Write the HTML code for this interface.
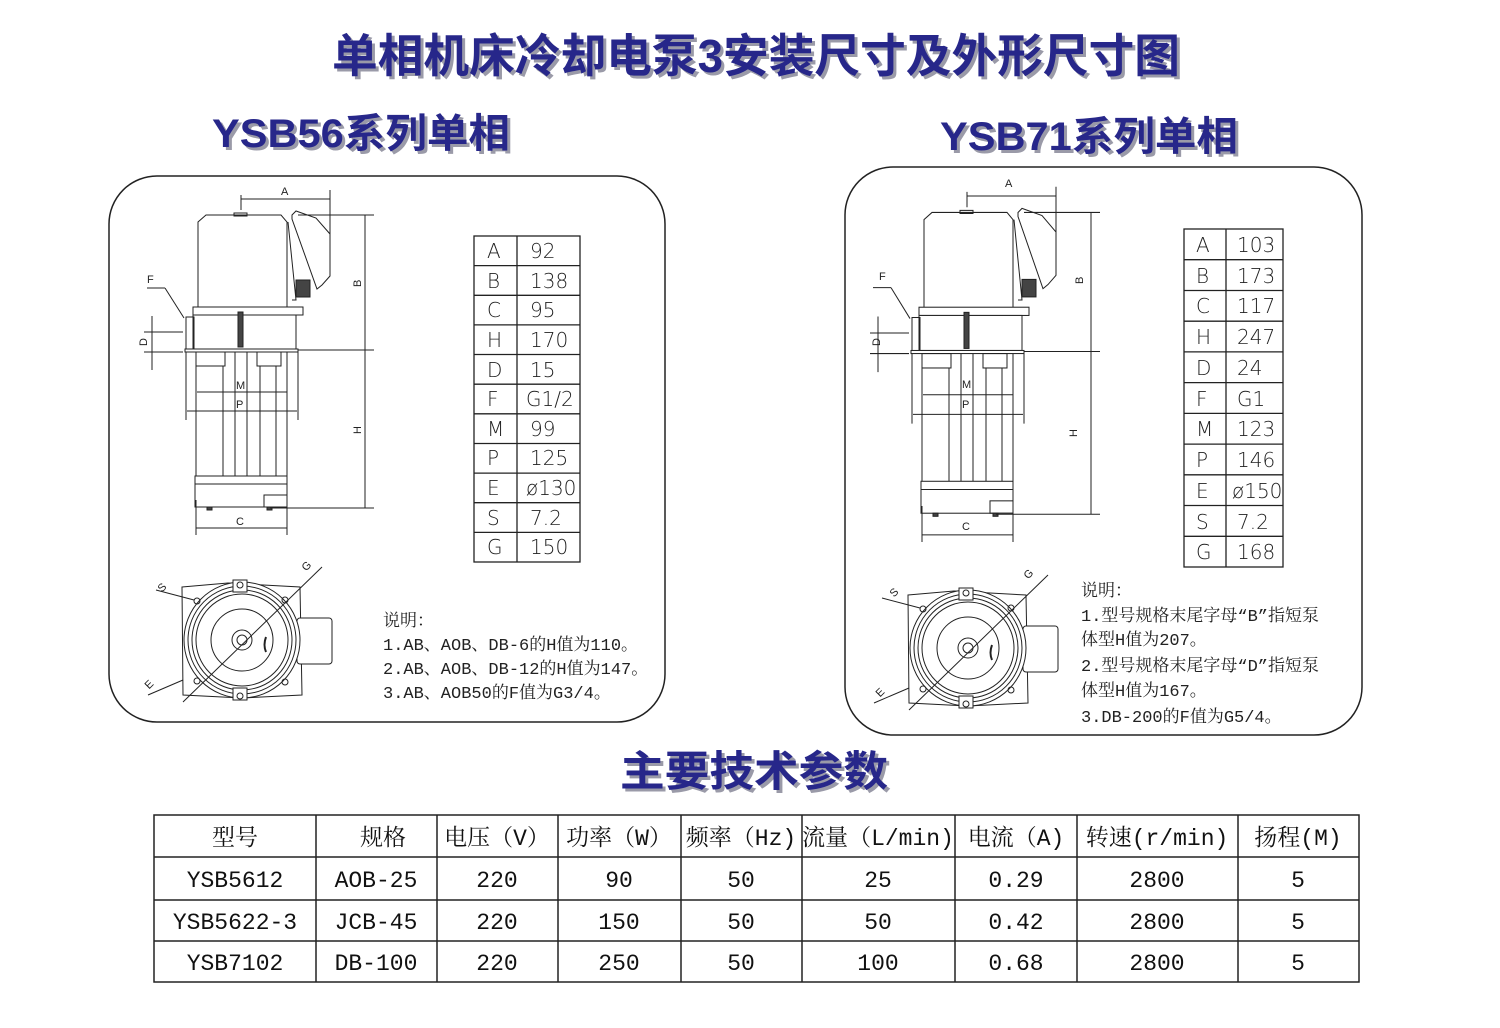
<!DOCTYPE html>
<html><head><meta charset="utf-8"><style>
html,body{margin:0;padding:0;background:#fff;}
svg{display:block}
.t{font-family:"Liberation Sans","Noto Sans CJK SC",sans-serif;font-weight:bold;fill:#27278a;}
.sh{font-family:"Liberation Sans","Noto Sans CJK SC",sans-serif;font-weight:bold;fill:#9a9aa8;}
.tb{font-family:"Liberation Mono","Noto Serif CJK SC",serif;font-size:23px;fill:#111;}
.nt{font-family:"Liberation Mono","Noto Serif CJK SC",serif;font-size:17px;fill:#222;}
.dl{font-family:"Liberation Sans",sans-serif;font-size:11px;fill:#222;}
.tv{font-family:"DejaVu Sans","Liberation Sans",sans-serif;font-size:20px;fill:#222;font-weight:200}
</style></head><body>
<svg width="1500" height="1028" viewBox="0 0 1500 1028" xmlns="http://www.w3.org/2000/svg">
<!-- titles -->
<text class="sh" x="335" y="75" font-size="46" textLength="848" lengthAdjust="spacingAndGlyphs">单相机床冷却电泵3安装尺寸及外形尺寸图</text>
<text class="t" x="332" y="72" font-size="46" textLength="848" lengthAdjust="spacingAndGlyphs">单相机床冷却电泵3安装尺寸及外形尺寸图</text>
<text class="sh" x="215" y="150" font-size="40" textLength="298" lengthAdjust="spacingAndGlyphs">YSB56系列单相</text>
<text class="t" x="212" y="147" font-size="40" textLength="298" lengthAdjust="spacingAndGlyphs">YSB56系列单相</text>
<text class="sh" x="943" y="153" font-size="40" textLength="298" lengthAdjust="spacingAndGlyphs">YSB71系列单相</text>
<text class="t" x="940" y="150" font-size="40" textLength="298" lengthAdjust="spacingAndGlyphs">YSB71系列单相</text>
<text class="sh" x="623" y="789" font-size="42" textLength="268" lengthAdjust="spacingAndGlyphs">主要技术参数</text>
<text class="t" x="620" y="786" font-size="42" textLength="268" lengthAdjust="spacingAndGlyphs">主要技术参数</text>

<!-- frames -->
<rect x="109" y="176" width="556" height="546" rx="48" fill="none" stroke="#222" stroke-width="1.5"/>
<rect x="845" y="167" width="517" height="568" rx="48" fill="none" stroke="#222" stroke-width="1.5"/>

<defs>
<g id="pump" fill="none" stroke="#222" stroke-width="1">
  <!-- motor -->
  <path d="M198,307 L198,222 L206,215 L281,215 L287,222 L287,307" fill="#fff"/>
  <rect x="234" y="213" width="13" height="3"/>
  <!-- terminal box -->
  <path d="M288,222 L296,300 L292,300" />
  <path d="M292,215 L296,211 L316,218 L330,234 L330,276 L322,285 L317,289 L292,219 Z" fill="#fff"/>
  <rect x="296" y="280" width="14" height="17" fill="#444"/>
  <!-- flange -->
  <rect x="193" y="307" width="110" height="8" fill="#fff"/>
  <rect x="193" y="315" width="103" height="34" fill="#fff"/>
  <rect x="238" y="312" width="5" height="35" fill="#444"/>
  <rect x="186" y="317" width="8" height="33"/>
  <rect x="185" y="349" width="113" height="3" fill="#fff"/>
  <!-- column -->
  <rect x="196" y="352" width="29" height="14"/>
  <rect x="257" y="352" width="24" height="14"/>
  <line x1="196" y1="352" x2="196" y2="476"/>
  <line x1="287" y1="352" x2="287" y2="476"/>
  <line x1="223" y1="366" x2="223" y2="476"/>
  <line x1="235" y1="352" x2="235" y2="476"/>
  <line x1="247" y1="352" x2="247" y2="476"/>
  <line x1="260" y1="366" x2="260" y2="476"/>
  <line x1="276" y1="366" x2="276" y2="476"/>
  <!-- base -->
  <rect x="195" y="476" width="92" height="31" fill="#fff"/>
  <line x1="195" y1="484" x2="287" y2="484"/>
  <rect x="264" y="495" width="23" height="12"/>
  <rect x="207" y="507" width="5" height="3" fill="#444"/>
  <rect x="267" y="507" width="5" height="3" fill="#444"/>
  <!-- dimension lines -->
  <line x1="241" y1="195" x2="241" y2="210"/>
  <line x1="330" y1="190" x2="330" y2="240"/>
  <line x1="241" y1="199" x2="330" y2="199"/>
  <line x1="298" y1="215" x2="374" y2="215"/>
  <line x1="298" y1="350" x2="374" y2="350"/>
  <line x1="270" y1="508" x2="374" y2="508"/>
  <line x1="365" y1="215" x2="365" y2="508"/>
  <line x1="186" y1="352" x2="186" y2="420"/>
  <line x1="298" y1="352" x2="298" y2="420"/>
  <line x1="187" y1="411" x2="297" y2="411"/>
  <line x1="197" y1="392" x2="287" y2="392"/>
  <line x1="196" y1="500" x2="196" y2="535"/>
  <line x1="287" y1="500" x2="287" y2="535"/>
  <line x1="196" y1="528" x2="287" y2="528"/>
  <line x1="144" y1="332" x2="183" y2="332"/>
  <line x1="144" y1="352" x2="183" y2="352"/>
  <line x1="152" y1="316" x2="152" y2="370"/>
  <line x1="147" y1="288" x2="165" y2="288"/>
  <line x1="165" y1="288" x2="184" y2="318"/>
</g>
<g id="bot" fill="none" stroke="#222" stroke-width="1">
  <path d="M182,587 L228,583 L300,587 L302,695 L242,698 L183,695 Z" fill="#fff"/>
  <rect x="297" y="618" width="35" height="46" rx="3" fill="#fff"/>
  <circle cx="242" cy="640" r="58" fill="#fff"/>
  <circle cx="242" cy="640" r="54"/>
  <circle cx="242" cy="640" r="50"/>
  <circle cx="242" cy="640" r="46"/>
  <circle cx="242" cy="640" r="31"/>
  <circle cx="242" cy="640" r="10"/>
  <circle cx="242" cy="640" r="5"/>
  <rect x="233" y="580" width="14" height="12" fill="#fff"/>
  <circle cx="240" cy="585" r="3"/>
  <rect x="233" y="688" width="14" height="12" fill="#fff"/>
  <circle cx="240" cy="696" r="3"/>
  <circle cx="197" cy="601" r="3"/>
  <circle cx="285" cy="600" r="3"/>
  <circle cx="197" cy="681" r="3"/>
  <circle cx="285" cy="682" r="3"/>
  <path d="M266,637 Q263,645 266,652" stroke-width="2"/>
  <line x1="183" y1="702" x2="322" y2="567"/>
  <line x1="156" y1="590" x2="194" y2="600"/>
  <line x1="148" y1="695" x2="183" y2="680"/>
</g>
</defs>

<use href="#pump"/>
<use href="#pump" transform="translate(726,-9) scale(1,1.03)"/>
<use href="#bot"/>
<use href="#bot" transform="translate(726,8)"/>

<!-- dim labels left -->
<text class="dl" x="281" y="195">A</text>
<text class="dl" x="354" y="286" transform="rotate(-90 358 283)">B</text>
<text class="dl" x="354" y="433" transform="rotate(-90 358 430)">H</text>
<text class="dl" x="236" y="525">C</text>
<text class="dl" x="236" y="389">M</text>
<text class="dl" x="236" y="408">P</text>
<text class="dl" x="140" y="345" transform="rotate(-90 144 342)">D</text>
<text class="dl" x="147" y="283" font-size="17">F</text>
<text class="dl" x="158" y="591" font-size="12" transform="rotate(-45 162 587)">S</text>
<text class="dl" x="302" y="570" font-size="12" transform="rotate(-45 306 566)">G</text>
<text class="dl" x="145" y="688" font-size="12" transform="rotate(-45 149 684)">E</text>
<!-- dim labels right -->
<text class="dl" x="1005" y="187">A</text>
<text class="dl" x="1076" y="283" transform="rotate(-90 1080 280)">B</text>
<text class="dl" x="1070" y="436" transform="rotate(-90 1074 433)">H</text>
<text class="dl" x="962" y="530">C</text>
<text class="dl" x="962" y="388">M</text>
<text class="dl" x="962" y="408">P</text>
<text class="dl" x="873" y="345" transform="rotate(-90 877 342)">D</text>
<text class="dl" x="879" y="280" font-size="17">F</text>
<text class="dl" x="890" y="596" font-size="12" transform="rotate(-45 894 592)">S</text>
<text class="dl" x="1024" y="578" font-size="12" transform="rotate(-45 1028 574)">G</text>
<text class="dl" x="876" y="696" font-size="12" transform="rotate(-45 880 692)">E</text>

<!-- spec table left -->
<g stroke="#222" stroke-width="1.3" fill="none">
<rect x="474" y="236" width="106" height="326"/>
<line x1="517" y1="236" x2="517" y2="562"/>
<path d="M474,265.6H580M474,295.3H580M474,324.9H580M474,354.5H580M474,384.2H580M474,413.8H580M474,443.5H580M474,473.1H580M474,502.7H580M474,532.4H580"/>
<rect x="1184" y="229" width="99" height="338"/>
<line x1="1226" y1="229" x2="1226" y2="567"/>
<path d="M1184,259.7H1283M1184,290.5H1283M1184,321.2H1283M1184,351.9H1283M1184,382.6H1283M1184,413.4H1283M1184,444.1H1283M1184,474.8H1283M1184,505.5H1283M1184,536.3H1283"/>
</g>
<g class="tv">
<text x="487" y="258">A</text><text x="530" y="258">92</text>
<text x="487" y="288">B</text><text x="530" y="288">138</text>
<text x="487" y="317">C</text><text x="530" y="317">95</text>
<text x="487" y="347">H</text><text x="530" y="347">170</text>
<text x="487" y="377">D</text><text x="530" y="377">15</text>
<text x="487" y="406">F</text><text x="526" y="406">G1/2</text>
<text x="487" y="436">M</text><text x="530" y="436">99</text>
<text x="487" y="465">P</text><text x="530" y="465">125</text>
<text x="487" y="495">E</text><text x="526" y="495">ø130</text>
<text x="487" y="525">S</text><text x="530" y="525">7.2</text>
<text x="487" y="554">G</text><text x="530" y="554">150</text>

<text x="1196" y="252">A</text><text x="1237" y="252">103</text>
<text x="1196" y="283">B</text><text x="1237" y="283">173</text>
<text x="1196" y="313">C</text><text x="1237" y="313">117</text>
<text x="1196" y="344">H</text><text x="1237" y="344">247</text>
<text x="1196" y="375">D</text><text x="1237" y="375">24</text>
<text x="1196" y="406">F</text><text x="1237" y="406">G1</text>
<text x="1196" y="436">M</text><text x="1237" y="436">123</text>
<text x="1196" y="467">P</text><text x="1237" y="467">146</text>
<text x="1196" y="498">E</text><text x="1232" y="498">ø150</text>
<text x="1196" y="529">S</text><text x="1237" y="529">7.2</text>
<text x="1196" y="559">G</text><text x="1237" y="559">168</text>
</g>

<!-- notes -->
<g class="nt">
<text x="383" y="626">说明：</text>
<text x="383" y="650">1.AB、AOB、DB-6的H值为110。</text>
<text x="383" y="674">2.AB、AOB、DB-12的H值为147。</text>
<text x="383" y="698">3.AB、AOB50的F值为G3/4。</text>
<text x="1081" y="596">说明：</text>
<text x="1081" y="621">1.型号规格末尾字母“B”指短泵</text>
<text x="1081" y="645">体型H值为207。</text>
<text x="1081" y="671">2.型号规格末尾字母“D”指短泵</text>
<text x="1081" y="696">体型H值为167。</text>
<text x="1081" y="722">3.DB-200的F值为G5/4。</text>
</g>

<!-- main table -->
<g stroke="#222" stroke-width="1.5" fill="none">
<rect x="154" y="815" width="1205" height="167"/>
<path d="M154,857H1359M154,900H1359M154,941H1359"/>
<path d="M316,815V982M437,815V982M558,815V982M681,815V982M802,815V982M955,815V982M1077,815V982M1238,815V982"/>
</g>
<g class="tb" text-anchor="middle">
<text x="235" y="845">型号</text><text x="383" y="845">规格</text><text x="497" y="845">电压（V）</text>
<text x="619" y="845">功率（W）</text><text x="741" y="845">频率（Hz)</text><text x="878" y="845">流量（L/min)</text>
<text x="1016" y="845">电流（A)</text><text x="1157" y="845">转速(r/min)</text><text x="1298" y="845">扬程(M)</text>
<text x="235" y="887">YSB5612</text><text x="376" y="887">AOB-25</text><text x="497" y="887">220</text><text x="619" y="887">90</text><text x="741" y="887">50</text><text x="878" y="887">25</text><text x="1016" y="887">0.29</text><text x="1157" y="887">2800</text><text x="1298" y="887">5</text>
<text x="235" y="929">YSB5622-3</text><text x="376" y="929">JCB-45</text><text x="497" y="929">220</text><text x="619" y="929">150</text><text x="741" y="929">50</text><text x="878" y="929">50</text><text x="1016" y="929">0.42</text><text x="1157" y="929">2800</text><text x="1298" y="929">5</text>
<text x="235" y="970">YSB7102</text><text x="376" y="970">DB-100</text><text x="497" y="970">220</text><text x="619" y="970">250</text><text x="741" y="970">50</text><text x="878" y="970">100</text><text x="1016" y="970">0.68</text><text x="1157" y="970">2800</text><text x="1298" y="970">5</text>
</g>
</svg>
</body></html>
